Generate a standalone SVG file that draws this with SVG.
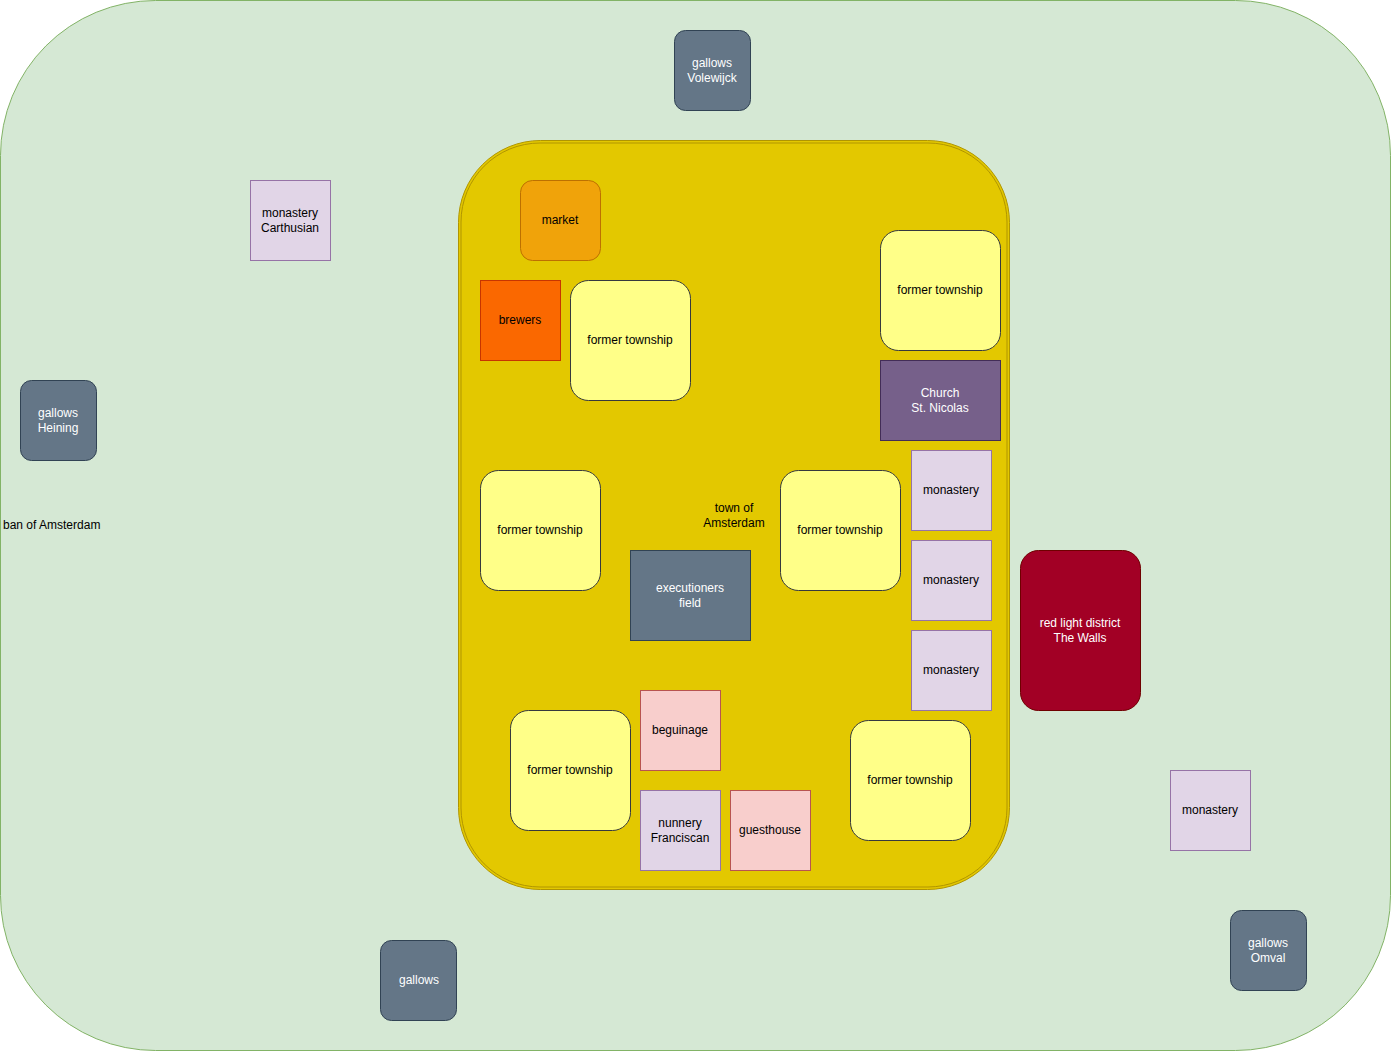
<svg xmlns="http://www.w3.org/2000/svg" width="1391" height="1052" viewBox="0 0 1391 1052">
<style>
text{font-family:"Liberation Sans",Arial,Helvetica,sans-serif;font-size:12px;text-anchor:middle;dominant-baseline:central;fill:#000}
.w{fill:#ffffff}
.gray{fill:#647687;stroke:#314354}
.purple{fill:#e1d5e7;stroke:#9673a6}
.yellow{fill:#ffff88;stroke:#36393d}
.pink{fill:#f8cecc;stroke:#b85450}
</style>
<g id="ban">
<rect x="0.5" y="0.5" width="1390" height="1050" rx="155" ry="155" fill="#d5e8d4" stroke="#82b366"/>
<text x="3" y="525" style="text-anchor:start">ban of Amsterdam</text>
</g>
<g id="town">
<rect x="458.5" y="140.5" width="551" height="749" rx="82" ry="82" fill="#e3c800" stroke="#B09500"/>
<rect x="461" y="143" width="546" height="744" rx="79" ry="79" fill="none" stroke="#B09500"/>
<text x="734" y="508">town of</text>
<text x="734" y="523">Amsterdam</text>
</g>
<g id="connectors"></g>
<g id="gallows-volewijck"><rect x="674.5" y="30.5" width="76" height="80" rx="11" class="gray"/><text class="w" x="712" y="63">gallows</text><text class="w" x="712" y="78">Volewijck</text></g>
<g id="monastery-carthusian"><rect x="250.5" y="180.5" width="80" height="80" class="purple"/><text x="290" y="213">monastery</text><text x="290" y="228">Carthusian</text></g>
<g id="market"><rect x="520.5" y="180.5" width="80" height="80" rx="12" fill="#f0a30a" stroke="#BD7000"/><text x="560" y="220">market</text></g>
<g id="brewers"><rect x="480.5" y="280.5" width="80" height="80" fill="#fa6800" stroke="#C73500"/><text x="520" y="320">brewers</text></g>
<g id="township1"><rect x="570.5" y="280.5" width="120" height="120" rx="18" class="yellow"/><text x="630" y="340">former township</text></g>
<g id="township2"><rect x="880.5" y="230.5" width="120" height="120" rx="18" class="yellow"/><text x="940" y="290">former township</text></g>
<g id="church"><rect x="880.5" y="360.5" width="120" height="80" fill="#76608a" stroke="#432D57"/><text class="w" x="940" y="393">Church</text><text class="w" x="940" y="408">St. Nicolas</text></g>
<g id="gallows-heining"><rect x="20.5" y="380.5" width="76" height="80" rx="11" class="gray"/><text class="w" x="58" y="413">gallows</text><text class="w" x="58" y="428">Heining</text></g>
<g id="township3"><rect x="480.5" y="470.5" width="120" height="120" rx="18" class="yellow"/><text x="540" y="530">former township</text></g>
<g id="township4"><rect x="780.5" y="470.5" width="120" height="120" rx="18" class="yellow"/><text x="840" y="530">former township</text></g>
<g id="monastery1"><rect x="911.5" y="450.5" width="80" height="80" class="purple"/><text x="951" y="490">monastery</text></g>
<g id="monastery2"><rect x="911.5" y="540.5" width="80" height="80" class="purple"/><text x="951" y="580">monastery</text></g>
<g id="monastery3"><rect x="911.5" y="630.5" width="80" height="80" class="purple"/><text x="951" y="670">monastery</text></g>
<g id="executioners-field"><rect x="630.5" y="550.5" width="120" height="90" class="gray"/><text class="w" x="690" y="588">executioners</text><text class="w" x="690" y="603">field</text></g>
<g id="red-light"><rect x="1020.5" y="550.5" width="120" height="160" rx="18" fill="#a20025" stroke="#6F0000"/><text class="w" x="1080" y="623">red light district</text><text class="w" x="1080" y="638">The Walls</text></g>
<g id="township5"><rect x="510.5" y="710.5" width="120" height="120" rx="18" class="yellow"/><text x="570" y="770">former township</text></g>
<g id="beguinage"><rect x="640.5" y="690.5" width="80" height="80" class="pink"/><text x="680" y="730">beguinage</text></g>
<g id="nunnery"><rect x="640.5" y="790.5" width="80" height="80" class="purple"/><text x="680" y="823">nunnery</text><text x="680" y="838">Franciscan</text></g>
<g id="guesthouse"><rect x="730.5" y="790.5" width="80" height="80" class="pink"/><text x="770" y="830">guesthouse</text></g>
<g id="township6"><rect x="850.5" y="720.5" width="120" height="120" rx="18" class="yellow"/><text x="910" y="780">former township</text></g>
<g id="monastery4"><rect x="1170.5" y="770.5" width="80" height="80" class="purple"/><text x="1210" y="810">monastery</text></g>
<g id="gallows"><rect x="380.5" y="940.5" width="76" height="80" rx="11" class="gray"/><text class="w" x="419" y="980">gallows</text></g>
<g id="gallows-omval"><rect x="1230.5" y="910.5" width="76" height="80" rx="11" class="gray"/><text class="w" x="1268" y="943">gallows</text><text class="w" x="1268" y="958">Omval</text></g>
</svg>
